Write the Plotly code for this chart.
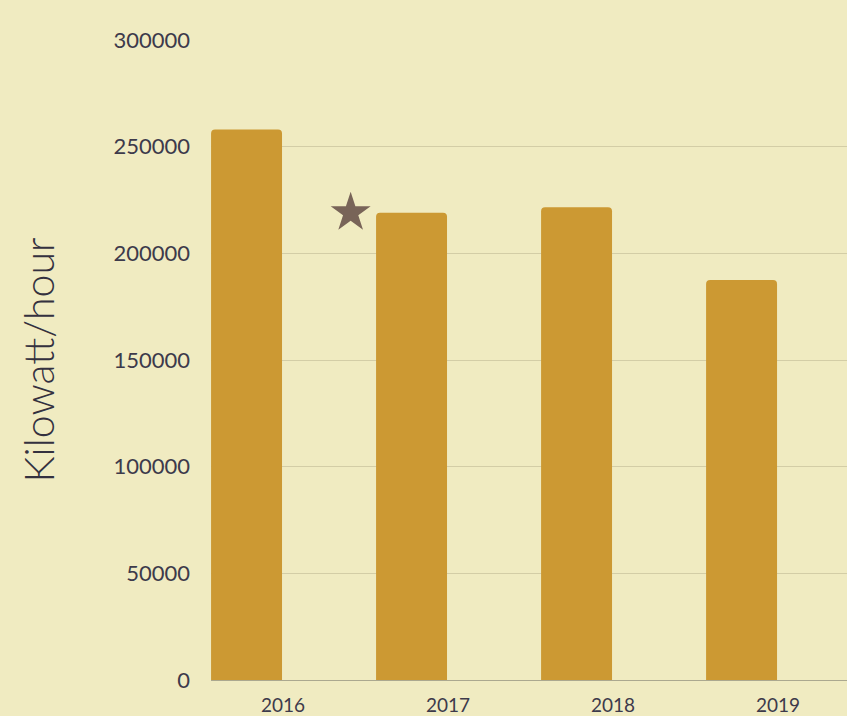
import plotly.graph_objects as go

years = [2016, 2017, 2018, 2019]
kwh = [258000, 219000, 221600, 187500]
star_x = [2016.41]
star_y = [219000]
y_ticks = [0, 50000, 100000, 150000, 200000, 250000, 300000]

fig = go.Figure()
fig.add_trace(go.Bar(
    x=years, y=kwh, offset=-0.436, width=0.43,
    marker=dict(color="#CC9933", cornerradius=4, line=dict(width=0)),
    showlegend=False, hoverinfo="x+y",
))
fig.add_trace(go.Scatter(
    x=star_x, y=star_y, mode="markers",
    marker=dict(symbol="star", size=30, color="#786458", line=dict(width=0)),
    showlegend=False,
))

font_family = "Lato, 'Open Sans', sans-serif"
fig.update_layout(
    width=847, height=716,
    margin=dict(l=211, r=0, t=40, b=33),
    paper_bgcolor="#F0EBC1", plot_bgcolor="#F0EBC1",
    font=dict(family=font_family, color="#3D3A4B"),
    xaxis=dict(
        range=[2015.5636, 2019.418],
        tickmode="array", tickvals=years, ticktext=[str(y) for y in years],
        tickfont=dict(size=19, color="#3D3A4B"),
        showgrid=False, zeroline=False,
        showline=True, linecolor="#ABA88F", linewidth=1,
        ticks="", ticklabelstandoff=8,
    ),
    yaxis=dict(
        range=[0, 300000],
        tickmode="array", tickvals=y_ticks, ticktext=[str(v) for v in y_ticks],
        tickfont=dict(size=22, color="#3D3A4B"),
        showgrid=True, gridcolor="#D3CDA6", gridwidth=1,
        zeroline=False, showline=False, ticks="",
        ticklabelstandoff=20,
        title=dict(text="Kilowatt/hour", font=dict(size=41, color="#34313F", weight=300), standoff=46),
    ),
)
fig.write_html("out.html", config={"displayModeBar": False},
               post_script="document.body.style.margin='0';document.body.style.overflow='hidden';")
